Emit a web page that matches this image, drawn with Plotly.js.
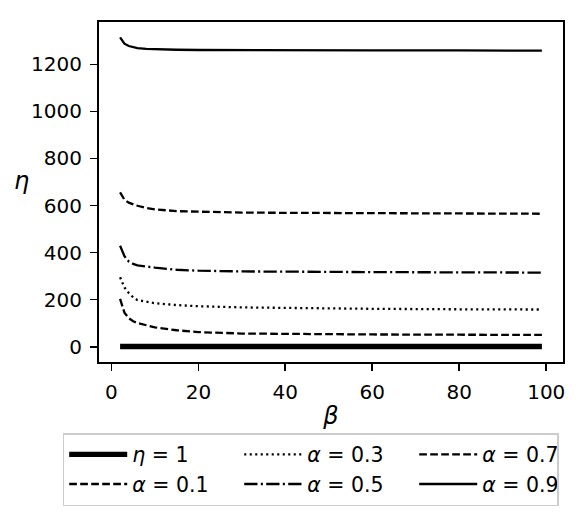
<!DOCTYPE html>
<html>
<head>
<meta charset="utf-8">
<script src="https://cdn.plot.ly/plotly-3.0.1.min.js"></script>
<style>html,body{margin:0;padding:0;background:#fff;}#chart{width:587px;height:526px;}</style>
</head>
<body>
<div id="chart"></div>
<script>
// beta samples
const beta = [2, 3, 4, 5, 6, 8, 10, 15, 20, 30, 40, 60, 80, 99];
const etaOne = [1, 1, 1, 1, 1, 1, 1, 1, 1, 1, 1, 1, 1, 1];
const alpha01 = [203, 145, 121, 108, 101, 90, 82, 70, 62, 56, 54, 52, 51, 50];
const alpha03 = [295, 252, 228, 210, 198, 190, 185, 177, 172, 167, 164, 161, 159, 158];
const alpha05 = [429, 385, 362, 352, 346, 340, 336, 327, 323, 320, 318, 317, 316, 315];
const alpha07 = [656, 625, 612, 604, 599, 590, 584, 576, 573, 570, 569, 567, 566, 565];
const alpha09 = [1315, 1288, 1278, 1272, 1269, 1266, 1264, 1262, 1261, 1260, 1260, 1259, 1259, 1258];
const xTicks = [0, 20, 40, 60, 80, 100];
const yTicks = [0, 200, 400, 600, 800, 1000, 1200];

const DASH = '7.7px,3.3px';
const DOT = '2.1px,3.4px';
const DASHDOT = '13.3px,3.3px,2.1px,3.3px';

function tr(y, name, width, dash, rank, lw) {
  const t = {x: beta, y: y, type: 'scatter', mode: 'lines', name: name,
    line: {color: '#000', width: width, dash: dash}, legendrank: rank};
  if (lw) t.legendwidth = lw;
  return t;
}
const LW = 2.3;
const data = [
  tr(etaOne, '<i>η</i> = 1', 5.4, 'solid', 1),
  tr(alpha01, '<i>α</i> = 0.1', LW, DASH, 4),
  tr(alpha03, '<i>α</i> = 0.3', LW, DOT, 2),
  tr(alpha05, '<i>α</i> = 0.5', LW, DASHDOT, 5),
  tr(alpha07, '<i>α</i> = 0.7', LW, DASH, 3, 70),
  tr(alpha09, '<i>α</i> = 0.9', LW, 'solid', 6, 70)
];

const axisCommon = {
  showgrid: false, zeroline: false, showline: true, mirror: true,
  linecolor: '#000', linewidth: 1.7, ticks: 'outside', ticklen: 7.3,
  tickwidth: 1.7, tickcolor: '#000', ticklabelstandoff: 4,
  tickfont: {family: 'DejaVu Sans', size: 20, color: '#000'}
};

const layout = {
  width: 587, height: 526,
  margin: {l: 99.3, r: 23.7, t: 22, b: 164},
  paper_bgcolor: '#fff', plot_bgcolor: '#fff',
  showlegend: true,
  xaxis: Object.assign({}, axisCommon, {
    range: [-2.85, 103.85], tickvals: xTicks, ticktext: xTicks.map(String),
    title: {text: '<i>β</i>', font: {family: 'DejaVu Sans', size: 24, color: '#000'}, standoff: 4}
  }),
  yaxis: Object.assign({}, axisCommon, {
    range: [-65, 1380], tickvals: yTicks, ticktext: yTicks.map(String)
  }),
  annotations: [{
    text: '<i>η</i>', xref: 'paper', yref: 'paper', x: (22 - 99.3) / 464, y: (362 - 181) / 340,
    xanchor: 'center', yanchor: 'middle', showarrow: false,
    font: {family: 'DejaVu Sans', size: 24, color: '#000'}
  }],
  legend: {
    orientation: 'h', x: (63 - 99.3) / 464, xanchor: 'left', y: (362 - 433) / 340, yanchor: 'top',
    traceorder: 'normal', itemwidth: 58, entrywidth: 102, entrywidthmode: 'pixels',
    bgcolor: '#fff', bordercolor: '#cccccc', borderwidth: 1.5,
    font: {family: 'DejaVu Sans', size: 20.5, color: '#000'}
  }
};

Plotly.newPlot('chart', data, layout, {displayModeBar: false, staticPlot: true});
</script>
</body>
</html>
